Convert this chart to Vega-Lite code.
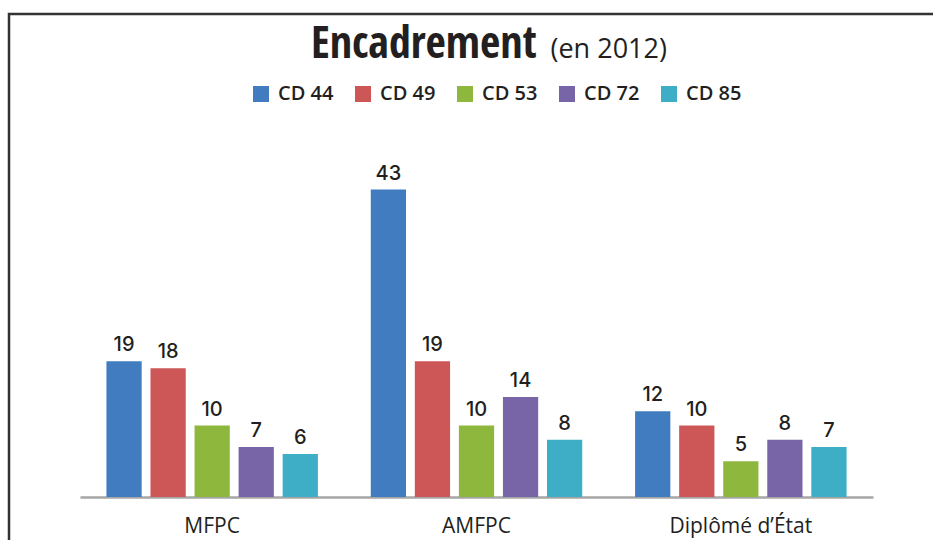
{
  "$schema": "https://vega.github.io/schema/vega-lite/v6.json",
  "width": 930,
  "height": 560,
  "autosize": {"type": "none"},
  "padding": {"left": 9, "top": 14, "right": 0, "bottom": 0},
  "background": "white",
  "title": {
    "text": "Encadrement",
    "anchor": "start",
    "dx": 302,
    "dy": 43,
    "offset": -45,
    "baseline": "alphabetic",
    "font": "Open Sans Condensed",
    "fontSize": 44,
    "fontWeight": "bold",
    "color": "#231f20"
  },
  "data": {
    "values": [
      {"groupe": "MFPC", "cd": "CD 44", "valeur": 19},
      {"groupe": "MFPC", "cd": "CD 49", "valeur": 18},
      {"groupe": "MFPC", "cd": "CD 53", "valeur": 10},
      {"groupe": "MFPC", "cd": "CD 72", "valeur": 7},
      {"groupe": "MFPC", "cd": "CD 85", "valeur": 6},
      {"groupe": "AMFPC", "cd": "CD 44", "valeur": 43},
      {"groupe": "AMFPC", "cd": "CD 49", "valeur": 19},
      {"groupe": "AMFPC", "cd": "CD 53", "valeur": 10},
      {"groupe": "AMFPC", "cd": "CD 72", "valeur": 14},
      {"groupe": "AMFPC", "cd": "CD 85", "valeur": 8},
      {"groupe": "Diplômé d’État", "cd": "CD 44", "valeur": 12},
      {"groupe": "Diplômé d’État", "cd": "CD 49", "valeur": 10},
      {"groupe": "Diplômé d’État", "cd": "CD 53", "valeur": 5},
      {"groupe": "Diplômé d’État", "cd": "CD 72", "valeur": 8},
      {"groupe": "Diplômé d’État", "cd": "CD 85", "valeur": 7}
    ]
  },
  "encoding": {
    "x": {
      "field": "groupe",
      "type": "nominal",
      "sort": ["MFPC", "AMFPC", "Diplômé d’État"],
      "scale": {"range": [71, 864], "paddingInner": 0, "paddingOuter": 0},
      "axis": {
        "title": null,
        "offset": -77,
        "domainColor": "#a6a6a6",
        "domainWidth": 2.5,
        "ticks": false,
        "grid": false,
        "labelAngle": 0,
        "labelFont": "Open Sans",
        "labelFontSize": 21,
        "labelColor": "#231f20",
        "labelPadding": 18
      }
    },
    "xOffset": {
      "field": "cd",
      "type": "nominal",
      "sort": ["CD 44", "CD 49", "CD 53", "CD 72", "CD 85"],
      "scale": {"paddingInner": 0.2, "paddingOuter": 0.6}
    },
    "y": {
      "field": "valeur",
      "type": "quantitative",
      "scale": {"domain": [0, 50], "range": [483, 125.5], "nice": false, "zero": true},
      "axis": {
        "title": "(en 2012)",
        "titleX": 541,
        "titleY": 43,
        "titleAngle": 0,
        "titleAlign": "left",
        "titleBaseline": "alphabetic",
        "titleFont": "Open Sans",
        "titleFontSize": 27,
        "titleFontWeight": "normal",
        "titleColor": "#231f20",
        "domain": false,
        "ticks": false,
        "labels": false,
        "grid": false
      }
    }
  },
  "layer": [
    {
      "mark": {"type": "bar"},
      "encoding": {
        "color": {
          "field": "cd",
          "type": "nominal",
          "sort": ["CD 44", "CD 49", "CD 53", "CD 72", "CD 85"],
          "scale": {
            "domain": ["CD 44", "CD 49", "CD 53", "CD 72", "CD 85"],
            "range": ["#417cc1", "#cd5656", "#8db83d", "#7865a8", "#3daec5"]
          },
          "legend": {
            "title": null,
            "orient": "none",
            "direction": "horizontal",
            "columns": 5,
            "gridAlign": "all",
            "legendX": 242,
            "legendY": 70,
            "symbolType": "square",
            "symbolSize": 256,
            "symbolStrokeWidth": 0,
            "labelFont": "Open Sans",
            "labelFontSize": 20,
            "labelFontWeight": 600,
            "labelColor": "#231f20",
            "labelOffset": 7,
            "columnPadding": 19
          }
        }
      }
    },
    {
      "mark": {
        "type": "text",
        "baseline": "bottom",
        "dy": -6,
        "font": "Inter",
        "fontSize": 20,
        "fontWeight": 500,
        "color": "#231f20"
      },
      "encoding": {
        "text": {"field": "valeur", "type": "quantitative"}
      }
    }
  ],
  "config": {
    "view": {"stroke": "#333333", "strokeWidth": 2.5}
  }
}
